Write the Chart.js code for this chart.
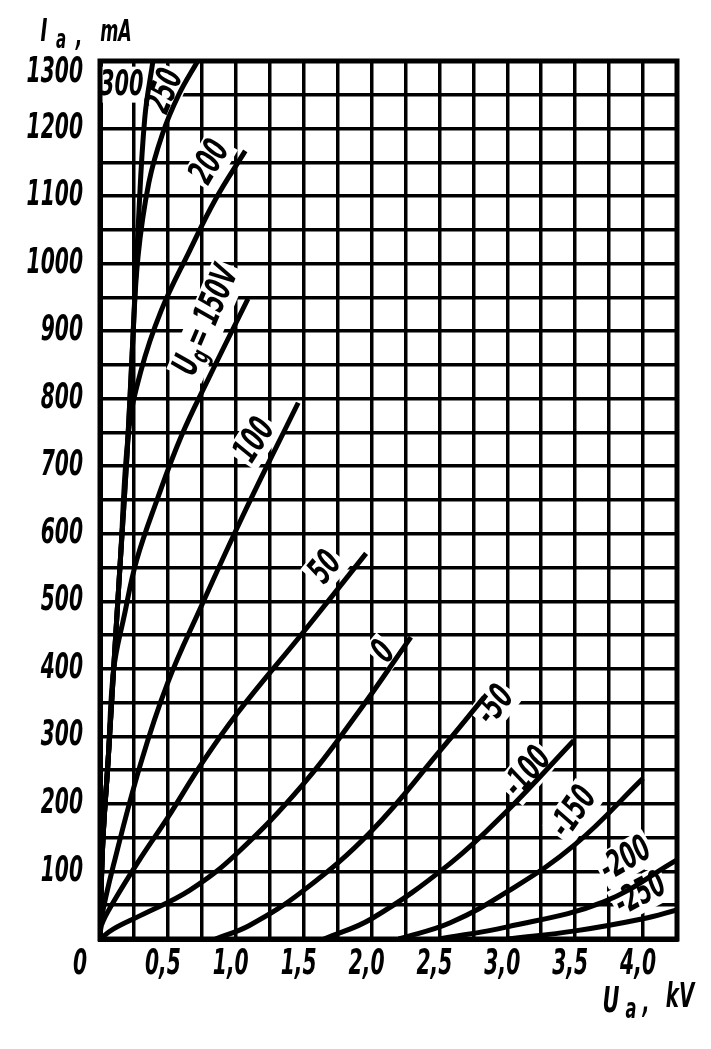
<!DOCTYPE html>
<html>
<head>
<meta charset="utf-8">
<script src="https://cdn.jsdelivr.net/npm/chart.js@4"></script>
<style>
  html, body { margin: 0; padding: 0; background: #fff; }
  #wrap { width: 711px; height: 1049px; }
</style>
</head>
<body>
<div id="wrap"><canvas id="grafico" width="711" height="1049"></canvas></div>
<script>
// anode voltage Ua (kV) and anode current Ia (mA), one pair of arrays per grid voltage
const ua300 = [0, 0.02, 0.06, 0.10, 0.15, 0.20, 0.24, 0.28, 0.33, 0.39];
const ia300 = [0, 140, 265, 398, 561, 720, 880, 1050, 1216, 1300];
const ua250 = [0, 0.02, 0.06, 0.10, 0.15, 0.20, 0.24, 0.28, 0.36, 0.46, 0.58, 0.72];
const ia250 = [0, 140, 265, 398, 561, 720, 880, 1010, 1120, 1192, 1250, 1300];
const ua200 = [0, 0.02, 0.06, 0.10, 0.15, 0.21, 0.30, 0.45, 0.66, 0.85, 1.07];
const ia200 = [0, 140, 265, 398, 561, 750, 840, 930, 1019, 1095, 1167];
const ua150 = [0, 0.02, 0.06, 0.10, 0.18, 0.27, 0.42, 0.60, 0.80, 1.09];
const ia150 = [0, 140, 265, 398, 480, 561, 650, 745, 830, 948];
const ua100 = [0, 0.01, 0.10, 0.30, 0.50, 0.74, 1.06, 1.46];
const ia100 = [0, 30, 110, 260, 380, 490, 630, 794];
const ua50 = [0, 0.01, 0.10, 0.30, 0.50, 0.75, 1.01, 1.50, 1.96];
const ia50 = [0, 20, 55, 120, 180, 260, 334, 455, 571];
const ua0 = [0, 0.10, 0.30, 0.66, 1.01, 1.50, 1.90, 2.29];
const ia0 = [0, 15, 35, 72, 127, 230, 335, 447];
const uaM50 = [0.85, 1.10, 1.50, 2.00, 2.51, 2.83];
const iaM50 = [0, 20, 72, 160, 280, 358];
const uaM100 = [1.65, 2.00, 2.58, 3.00, 3.49];
const iaM100 = [0, 30, 112, 190, 294];
const uaM150 = [2.20, 2.58, 3.00, 3.50, 4.00];
const iaM150 = [0, 24, 70, 140, 238];
const uaM200 = [2.50, 3.00, 3.71, 4.25];
const iaM200 = [0, 18, 55, 117];
const uaM250 = [3.00, 3.50, 4.00, 4.25];
const iaM250 = [0, 12, 30, 43];

// tick labels
const tickUa = [0, 0.5, 1.0, 1.5, 2.0, 2.5, 3.0, 3.5, 4.0];
const tickUaTesto = ['0', '0,5', '1,0', '1,5', '2,0', '2,5', '3,0', '3,5', '4,0'];
const tickIa = [100, 200, 300, 400, 500, 600, 700, 800, 900, 1000, 1100, 1200, 1300];

// curve labels: text, anchor (Ua kV, Ia mA), rotation in degrees
const etichette = ['300', '250', '200', 'Ug150', '100', '50', '0', '-50', '-100', '-150', '-200', '-250'];
const etichetteUa = [0.16, 0.48, 0.81, 0.79, 1.14, 1.66, 2.09, 2.91, 3.15, 3.49, 3.87, 3.98];
const etichetteIa = [1265, 1255, 1150, 915, 738, 550, 425, 346, 247, 188, 118, 66];
const etichetteAng = [0, -68, -60, -67, -57, -50, -50, -52, -50, -55, -30, -28];

const curve = [
  [ua300, ia300], [ua250, ia250], [ua200, ia200], [ua150, ia150], [ua100, ia100],
  [ua50, ia50], [ua0, ia0], [uaM50, iaM50], [uaM100, iaM100], [uaM150, iaM150],
  [uaM200, iaM200], [uaM250, iaM250]
];

const FONT = "'DejaVu Sans', sans-serif";
const STRETTO = 0.58; // horizontal squeeze to imitate the condensed lettering

const datasets = curve.map(([u, i]) => ({
  data: u.map((v, k) => ({ x: v, y: i[k] })),
  showLine: true,
  borderColor: '#000',
  borderWidth: 5,
  pointRadius: 0,
  tension: 0.4,
  fill: false
}));

// write condensed text anchored at (x, y)
function testo(ctx, t, x, y, size, align) {
  ctx.save();
  ctx.translate(x, y);
  ctx.scale(STRETTO, 1);
  ctx.font = `italic bold ${size}px ${FONT}`;
  ctx.textAlign = align || 'center';
  ctx.textBaseline = 'middle';
  ctx.fillText(t, 0, 0);
  ctx.restore();
}

const pluginCornice = {
  id: 'cornice',
  beforeDatasetsDraw(chart) {
    const { ctx, scales: { x, y } } = chart;
    ctx.save();
    etichette.forEach((t, k) => {
      const px = x.getPixelForValue(etichetteUa[k]);
      const py = y.getPixelForValue(etichetteIa[k]);
      ctx.save();
      ctx.translate(px, py);
      ctx.rotate(etichetteAng[k] * Math.PI / 180);
      ctx.scale(STRETTO, 1);
      ctx.textBaseline = 'middle';
      ctx.textAlign = 'left';
      if (t === 'Ug150') {
        ctx.font = `italic bold 36px ${FONT}`;
        const w1 = ctx.measureText('U').width;
        const w3 = ctx.measureText('= 150V').width;
        ctx.font = `italic bold 26px ${FONT}`;
        const w2 = ctx.measureText('g').width;
        const w = w1 + w2 + w3 + 4;
        ctx.fillStyle = '#fff';
        ctx.fillRect(-w / 2 - 5, -19, w + 10, 38);
        ctx.fillStyle = '#000';
        ctx.font = `italic bold 36px ${FONT}`;
        ctx.fillText('U', -w / 2, 0);
        ctx.font = `italic bold 26px ${FONT}`;
        ctx.fillText('g', -w / 2 + w1, 9);
        ctx.font = `italic bold 36px ${FONT}`;
        ctx.fillText('= 150V', -w / 2 + w1 + w2 + 4, 0);
      } else {
        ctx.font = `italic bold 36px ${FONT}`;
        const w = ctx.measureText(t).width;
        ctx.fillStyle = '#fff';
        ctx.fillRect(-w / 2 - 5, -18, w + 10, 36);
        ctx.fillStyle = '#000';
        ctx.fillText(t, -w / 2, 1);
      }
      ctx.restore();
    });
    ctx.restore();
  },
  afterDraw(chart) {
    const { ctx, chartArea: a, scales: { x, y } } = chart;
    ctx.save();
    ctx.strokeStyle = '#000';
    ctx.lineWidth = 5;
    ctx.strokeRect(a.left, a.top, a.right - a.left, a.bottom - a.top);
    ctx.fillStyle = '#000';
    // tick labels
    tickUa.forEach((v, k) => {
      const px = v === 0 ? x.getPixelForValue(v) - 20 : x.getPixelForValue(v) - 5;
      testo(ctx, tickUaTesto[k], px, 965, 35);
    });
    tickIa.forEach(v => {
      const py = y.getPixelForValue(v) + (v === 1300 ? 12 : 0);
      testo(ctx, String(v), 83, py, 35, 'right');
    });
    // axis titles
    testo(ctx, 'I', 44, 33, 32);
    testo(ctx, 'a', 61, 41, 26);
    testo(ctx, ',', 79, 38, 30);
    testo(ctx, 'mA', 116, 33, 30);
    testo(ctx, 'U', 611, 1003, 36);
    testo(ctx, 'a', 631, 1011, 28);
    testo(ctx, ',', 646, 1004, 32);
    testo(ctx, 'kV', 680, 998, 34);
    ctx.restore();
  }
};

new Chart(document.getElementById('grafico'), {
  type: 'scatter',
  data: { datasets },
  plugins: [pluginCornice],
  options: {
    responsive: false,
    animation: false,
    layout: { padding: { left: 0, right: 34, top: 61, bottom: 0 } },
    plugins: { legend: { display: false }, tooltip: { enabled: false } },
    scales: {
      x: {
        type: 'linear',
        min: 0,
        max: 4.25,
        afterFit: s => { s.height = 110; },
        grid: { color: '#000', lineWidth: 3.5, drawTicks: false },
        border: { color: '#000', width: 5 },
        ticks: { stepSize: 0.25, autoSkip: false, maxRotation: 0, callback: () => '' }
      },
      y: {
        type: 'linear',
        min: 0,
        max: 1300,
        afterFit: s => { s.width = 100; },
        grid: { color: '#000', lineWidth: 3.5, drawTicks: false },
        border: { color: '#000', width: 5 },
        ticks: { stepSize: 50, autoSkip: false, callback: () => '' }
      }
    }
  }
});
</script>
</body>
</html>
